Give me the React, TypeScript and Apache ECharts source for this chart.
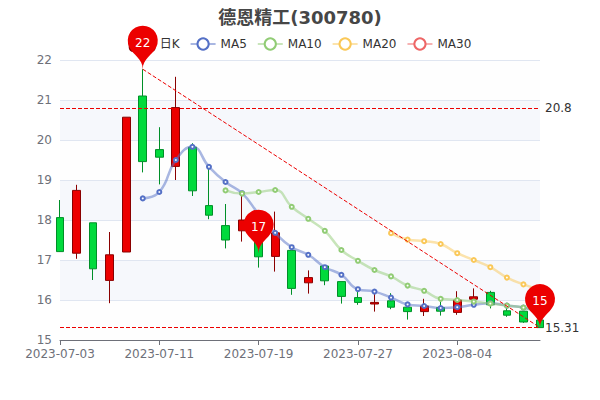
import React, { useEffect, useRef } from "react";
import * as echarts from "echarts";

const titleText = "德恩精工(300780)";
const dates = ["2023-07-03","2023-07-04","2023-07-05","2023-07-06","2023-07-07","2023-07-10","2023-07-11","2023-07-12","2023-07-13","2023-07-14","2023-07-17","2023-07-18","2023-07-19","2023-07-20","2023-07-21","2023-07-24","2023-07-25","2023-07-26","2023-07-27","2023-07-28","2023-07-31","2023-08-01","2023-08-02","2023-08-03","2023-08-04","2023-08-07","2023-08-08","2023-08-09","2023-08-10","2023-08-11"];
const opens = [18.06,17.17,17.93,16.49,17.2,21.1,19.76,19.34,19.82,18.36,17.86,17.73,17.5,17.09,17.24,16.43,16.85,16.46,16.06,15.9,15.98,15.82,15.71,15.81,15.69,16.02,16.19,15.73,15.72,15.5];
const closes = [17.21,18.74,16.78,17.13,20.57,19.46,19.57,20.81,18.73,18.12,17.5,18.0,17.08,17.68,16.29,16.56,16.48,16.09,15.94,15.94,15.82,15.71,15.85,15.72,16.0,16.08,15.88,15.62,15.45,15.31];
const lows = [17.2,17.03,16.5,15.92,17.2,19.19,18.89,19.0,18.6,18.02,17.29,17.46,16.81,16.71,16.13,16.16,16.37,15.91,15.88,15.71,15.77,15.51,15.6,15.61,15.63,15.9,15.79,15.58,15.43,15.31];
const highs = [18.5,18.88,17.93,17.7,20.57,21.77,20.32,21.58,19.92,19.33,18.4,18.67,17.6,18.21,17.24,16.74,16.85,16.46,16.2,16.2,16.17,15.92,16.03,15.96,16.22,16.29,16.23,15.87,15.72,15.5];
const N = null;
const ma5 = [N,N,N,N,N,18.54,18.7,19.5,19.83,19.33,18.95,18.67,18.15,17.68,17.32,17.13,16.82,16.63,16.27,16.21,16.06,15.89,15.85,15.8,15.82,15.88,15.92,15.86,15.81,15.68];
const ma10 = [N,N,N,N,N,N,N,N,N,N,18.74,18.66,18.7,18.75,18.33,18.03,17.73,17.25,16.98,16.75,16.59,16.36,16.23,16.03,16.0,15.96,15.91,15.86,15.81,15.72];
const ma20 = [N,N,N,N,N,N,N,N,N,N,N,N,N,N,N,N,N,N,N,N,17.67,17.51,17.47,17.4,17.17,17.0,16.82,16.56,16.39,16.25];
const ma30: (number | null)[] = dates.map(() => null);
const legendNames = ["日K", "MA5", "MA10", "MA20", "MA30"];
const yMin = 15;
const yMax = 22;
const maxLineValue = 20.8;
const minLineValue = 15.31;
const pins = [
  { index: 5, tip: 21.77, label: "22" },
  { index: 12, tip: 17.17, label: "17" },
  { index: 29, tip: 15.31, label: "15" },
];
const diagonalFrom = { index: 5, value: 21.77 };
const diagonalTo = { index: 29, value: 15.31 };
const FONT = "'DejaVu Sans', 'Noto Sans CJK SC', sans-serif";

const maSeries = (name: string, data: (number | null)[], color: string) => ({
  name,
  type: "line",
  data,
  smooth: true,
  symbol: "emptyCircle",
  symbolSize: 4,
  showSymbol: true,
  itemStyle: { color, borderWidth: 2 },
  lineStyle: { color, width: 2.5, opacity: 0.5 },
});

export default function App() {
  const ref = useRef<HTMLDivElement>(null);
  useEffect(() => {
    document.body.style.margin = "0";
    const chart = echarts.init(ref.current!, undefined, { renderer: "svg" });
    chart.setOption({
      animation: false,
      backgroundColor: "#ffffff",
      textStyle: { fontFamily: FONT },
      color: ["#5470c6", "#91cc75", "#fac858", "#ee6666"],
      title: {
        text: titleText,
        left: "center",
        top: 3,
        textStyle: { fontSize: 18, fontWeight: "bold", color: "#464646", fontFamily: FONT },
      },
      legend: {
        data: legendNames,
        top: 31,
        left: "center",
        itemGap: 10,
        textStyle: { color: "#333", fontSize: 12, fontFamily: FONT },
      },
      grid: { left: 60, right: 60, top: 60, bottom: 60 },
      xAxis: {
        type: "category",
        data: dates,
        boundaryGap: false,
        axisLine: { show: true, onZero: false, lineStyle: { color: "#6E7079" } },
        axisTick: { show: true, alignWithLabel: true, interval: 5, lineStyle: { color: "#6E7079" } },
        axisLabel: { color: "#6E7079", fontSize: 12, interval: 5, fontFamily: FONT },
        splitLine: { show: false },
      },
      yAxis: {
        type: "value",
        min: yMin,
        max: yMax,
        interval: 1,
        axisLine: { show: false },
        axisTick: { show: false },
        axisLabel: { color: "#6E7079", fontSize: 12, fontFamily: FONT },
        splitLine: { show: true, lineStyle: { color: "#E0E6F1" } },
        splitArea: { show: true, areaStyle: { color: ["rgba(250,250,250,0.2)", "rgba(210,219,238,0.2)"] } },
      },
      series: [
        {
          name: "日K",
          type: "candlestick",
          data: dates.map((_, i) => [opens[i], closes[i], lows[i], highs[i]]),
          itemStyle: { color: "#ec0000", color0: "#00da3c", borderColor: "#8A0000", borderColor0: "#008F28" },
          markPoint: {
            symbol: "pin",
            symbolSize: 50,
            itemStyle: { color: "#ec0000" },
            label: { show: true, color: "#fff", fontSize: 12, fontFamily: FONT },
            data: pins.map((p) => ({ coord: [dates[p.index], p.tip], value: p.label })),
          },
          markLine: {
            symbol: ["none", "none"],
            lineStyle: { color: "#ec0000", type: "dashed", width: 1 },
            label: { show: true, position: "end", color: "#333", fontSize: 12, fontFamily: FONT },
            data: [
              { yAxis: maxLineValue },
              { yAxis: minLineValue },
              [
                { coord: [dates[diagonalFrom.index], diagonalFrom.value], label: { show: false } },
                { coord: [dates[diagonalTo.index], diagonalTo.value], label: { show: false } },
              ],
            ],
          },
        },
        maSeries("MA5", ma5, "#5470c6"),
        maSeries("MA10", ma10, "#91cc75"),
        maSeries("MA20", ma20, "#fac858"),
        maSeries("MA30", ma30, "#ee6666"),
      ],
    });
    return () => chart.dispose();
  }, []);
  return <div ref={ref} style={{ width: 600, height: 400 }} />;
}
